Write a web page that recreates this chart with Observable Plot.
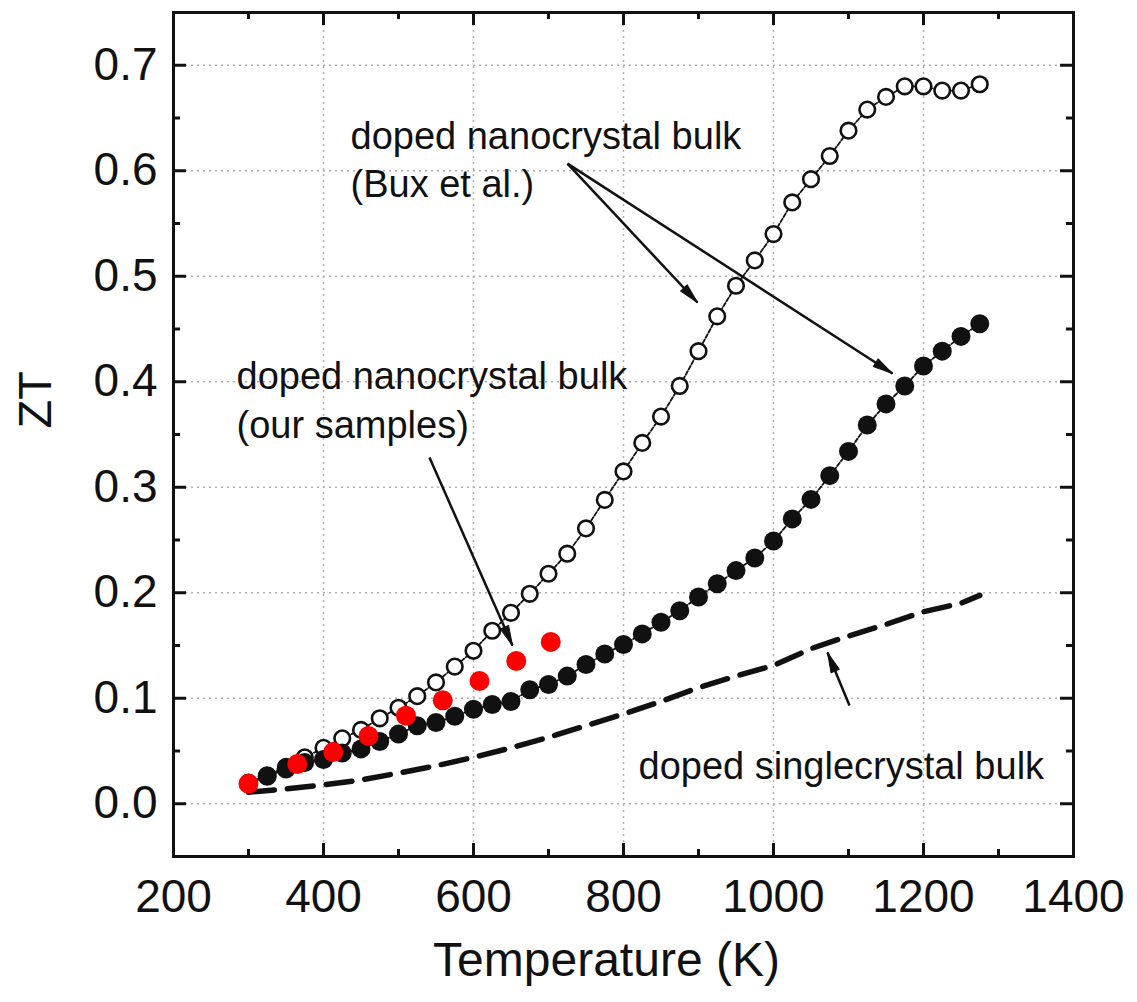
<!DOCTYPE html>
<html><head><meta charset="utf-8">
<script src="https://cdn.jsdelivr.net/npm/d3@7"></script>
<script src="https://cdn.jsdelivr.net/npm/@observablehq/plot@0.6"></script>
<style>body{margin:0;background:#fff}</style>
</head><body><div id="chart"></div>
<script>
// ---- data ----
const buxT = [300,325,350,375,400,425,450,475,500,525,550,575,600,625,650,675,700,725,750,775,800,825,850,875,900,925,950,975,1000,1025,1050,1075,1100,1125,1150,1175,1200,1225,1250,1275];
const buxOpenZT = [0.020,0.027,0.035,0.044,0.053,0.062,0.070,0.081,0.091,0.102,0.115,0.130,0.145,0.164,0.181,0.199,0.218,0.237,0.261,0.288,0.315,0.342,0.367,0.396,0.429,0.462,0.491,0.515,0.540,0.570,0.592,0.614,0.638,0.658,0.670,0.680,0.680,0.676,0.676,0.682];
const buxFilledZT = [0.019,0.026,0.033,0.039,0.042,0.048,0.052,0.059,0.066,0.074,0.077,0.083,0.0895,0.094,0.097,0.108,0.113,0.121,0.132,0.142,0.151,0.161,0.172,0.183,0.196,0.2085,0.221,0.233,0.249,0.270,0.2885,0.311,0.334,0.359,0.379,0.396,0.415,0.429,0.443,0.455];
const oursT = [300,365,413,460,510,559,608,657,703];
const oursZT = [0.019,0.0376,0.049,0.0642,0.0835,0.098,0.1163,0.1353,0.1533];
const singleT = [300,350,400,450,500,550,600,650,700,750,800,850,900,950,1000,1050,1100,1150,1200,1250,1275];
const singleZT = [0.011,0.014,0.018,0.0225,0.029,0.036,0.044,0.053,0.063,0.074,0.085,0.097,0.110,0.121,0.131,0.147,0.159,0.170,0.182,0.190,0.1975];

const xTickLabels = [200,400,600,800,1000,1200,1400];
const xMajor = [400,600,800,1000,1200];
const xMinor = [300,500,700,900,1100,1300];
const yTickLabels = [0,0.1,0.2,0.3,0.4,0.5,0.6,0.7];
const yMinor = [0.05,0.15,0.25,0.35,0.45,0.55,0.65];

const annoText = ["doped nanocrystal bulk","(Bux et al.)","doped nanocrystal bulk","(our samples)","doped singlecrystal bulk"];
const annoX = [436,436,284,284,820];
const annoY = [0.6324,0.5869,0.4049,0.3585,0.0353];

const arrowX1 = [725.3,725.3,541.3,1101.3];
const arrowY1 = [0.6068,0.6068,0.3282,0.0931];
const arrowX2 = [898.7,1158.7,652,1072];
const arrowY2 = [0.4751,0.4078,0.150,0.1433];

// ---- tables ----
const open = buxT.map((t,i)=>({t, z: buxOpenZT[i]}));
const filled = buxT.map((t,i)=>({t, z: buxFilledZT[i]}));
const ours = oursT.map((t,i)=>({t, z: oursZT[i]}));
const single = singleT.map((t,i)=>({t, z: singleZT[i]}));
const annos = annoText.map((s,i)=>({s, x: annoX[i], y: annoY[i]}));
const arrows = arrowX1.map((x1,i)=>({x1, y1: arrowY1[i], x2: arrowX2[i], y2: arrowY2[i]}));

const W = 1137, H = 1002, mL = 173, mR = 64, mT = 12, mB = 146;
const fH = H - mT - mB, fW = W - mL - mR;
const ink = "#111";
const grid = {stroke: "#b0b0b0", strokeWidth: 1.5, strokeDasharray: "2,4"};
const tk = {stroke: ink, strokeWidth: 3};
const scaleOpts = {x: {domain: [200, 1400]}, y: {domain: [-0.05, 0.75]}};
const layout = {width: W, height: H, marginLeft: mL, marginRight: mR, marginTop: mT, marginBottom: mB};

// first pass: obtain the scales to orient the arrowheads on screen
const probe = Plot.plot({...layout, ...scaleOpts, marks: [Plot.frame()]});
const sx = probe.scale("x"), sy = probe.scale("y");
arrows.forEach(a => {
  const dx = sx.apply(a.x2) - sx.apply(a.x1);
  const dy = sy.apply(a.y2) - sy.apply(a.y1);
  a.rot = Math.atan2(dx, -dy) * 180 / Math.PI;
});

const head = {draw(context, l, r) {
  context.moveTo(-r, 0); context.lineTo(0, -l); context.lineTo(r, 0); context.closePath();
}};

const chart = Plot.plot({
  ...layout, ...scaleOpts,
  style: {fontFamily: "'Liberation Sans', Arial, Helvetica, sans-serif", color: ink, background: "#fff"},
  marks: [
    Plot.ruleX(xMajor, grid),
    Plot.ruleY(yTickLabels, grid),
    Plot.ruleX(xMajor, {...tk, insetTop: fH - 13}),
    Plot.ruleX(xMajor, {...tk, insetBottom: fH - 13}),
    Plot.ruleX(xMinor, {...tk, insetTop: fH - 7}),
    Plot.ruleX(xMinor, {...tk, insetBottom: fH - 7}),
    Plot.ruleY(yTickLabels, {...tk, insetRight: fW - 13}),
    Plot.ruleY(yTickLabels, {...tk, insetLeft: fW - 13}),
    Plot.ruleY(yMinor, {...tk, insetRight: fW - 7}),
    Plot.ruleY(yMinor, {...tk, insetLeft: fW - 7}),
    Plot.axisX({ticks: xTickLabels, tickSize: 0, tickPadding: 23, fontSize: 46, tickFormat: d => String(d), label: null}),
    Plot.axisY({ticks: yTickLabels, tickSize: 0, tickPadding: 16, fontSize: 46, tickFormat: d3.format(".1f"), label: null}),
    Plot.line(single, {x: "t", y: "z", stroke: ink, strokeWidth: 5.5, strokeDasharray: "26,13"}),
    Plot.line(open, {x: "t", y: "z", stroke: ink, strokeWidth: 1.8, strokeDasharray: "4,2"}),
    Plot.dot(open, {x: "t", y: "z", r: 7.8, stroke: ink, strokeWidth: 2.6, fill: "#fff"}),
    Plot.line(filled, {x: "t", y: "z", stroke: ink, strokeWidth: 1.8, strokeDasharray: "4,2"}),
    Plot.dot(filled, {x: "t", y: "z", r: 9.5, fill: ink, stroke: "none"}),
    Plot.dot(ours, {x: "t", y: "z", r: 10, fill: "#ff0000", stroke: "none"}),
    Plot.frame({stroke: ink, strokeWidth: 3}),
    Plot.link(arrows, {x1: "x1", y1: "y1", x2: "x2", y2: "y2", stroke: ink, strokeWidth: 2.5}),
    Plot.vector(arrows, {x: "x2", y: "y2", rotate: "rot", length: 20, anchor: "end", shape: head, r: 4.5, fill: ink, stroke: ink, strokeWidth: 1}),
    Plot.text(annos, {x: "x", y: "y", text: "s", textAnchor: "start", lineAnchor: "middle", fontSize: 38, fill: ink}),
    Plot.text(["ZT"], {frameAnchor: "left", dx: -138, dy: -6, rotate: -90, fontSize: 47, fill: ink}),
    Plot.text(["Temperature (K)"], {frameAnchor: "bottom", dx: -17, dy: 119, fontSize: 48, fill: ink})
  ]
});
document.getElementById("chart").appendChild(chart);
</script>
</body></html>
